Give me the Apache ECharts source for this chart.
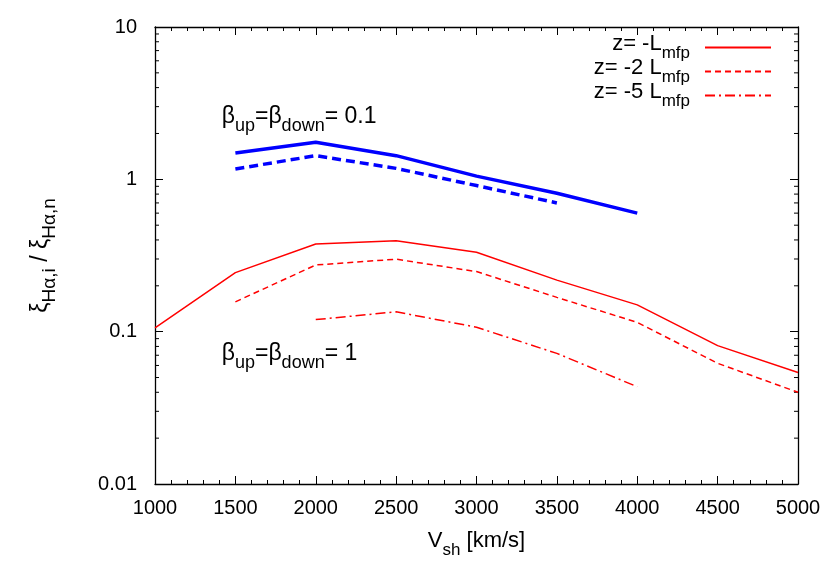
<!DOCTYPE html>
<html><head><meta charset="utf-8">
<script src="https://cdn.jsdelivr.net/npm/echarts@6/dist/echarts.min.js"></script>
<style>html,body{margin:0;padding:0;background:#fff}#c{width:830px;height:582px}</style>
</head><body><div id="c"></div>
<script>
// ---- data ----
const vsh        = [1000, 1500, 2000, 2500, 3000, 3500, 4000, 4500, 5000];
const blueSolid  = [null, 1.49, 1.75, 1.43, 1.05, 0.81, 0.60, null, null];
const blueDashed = [null, 1.17, 1.43, 1.18, 0.91, 0.70, null, null, null];
const redSolid   = [0.106, 0.244, 0.376, 0.395, 0.332, 0.218, 0.150, 0.081, 0.054];
const redDashed  = [null, 0.157, 0.274, 0.299, 0.248, 0.168, 0.115, 0.062, 0.040];
const redDashDot = [null, null, 0.120, 0.135, 0.107, 0.072, 0.0435, null, null];
const yTicks = [0.01, 0.1, 1, 10];

const FONT = "'Liberation Sans', Arial, Helvetica, sans-serif";
function pairs(ys){ const out=[]; ys.forEach((y,i)=>{ if(y!=null) out.push([vsh[i], y]); }); return out; }
const rich = {
  t: {fontSize: 22, fontFamily: FONT, color: '#000', padding: [0,0,7,0]},
  s: {fontSize: 17, fontFamily: FONT, color: '#000', verticalAlign: 'bottom'}
};
const yRich = {
  t: {fontSize: 23, fontFamily: FONT, color: '#000', padding: [0,0,7,0]},
  s: {fontSize: 19, fontFamily: FONT, color: '#000', verticalAlign: 'bottom'}
};
const legendNames = {
  'L1': '{t|z= -L}{s|mfp}',
  'L2': '{t|z= -2 L}{s|mfp}',
  'L5': '{t|z= -5 L}{s|mfp}'
};

const chart = echarts.init(document.getElementById('c'), null, {renderer: 'canvas'});
const axisLineStyle = {color: '#000', width: 1.3};
const option = {
  backgroundColor: '#fff',
  animation: false,
  grid: {left: 155, right: 32, top: 27, bottom: 98},
  legend: {
    orient: 'vertical', right: 53, top: 28, align: 'right',
    itemWidth: 66, itemHeight: 14, itemGap: -5,
    data: ['L1', 'L2', 'L5'],
    itemStyle: {opacity: 0},
    formatter: n => legendNames[n],
    textStyle: {fontFamily: FONT, fontSize: 22, color: '#000', rich: rich, padding: [0, 10, 0, 0]}
  },
  xAxis: [{
    type: 'value', min: 1000, max: 5000, interval: 500, position: 'bottom',
    name: '{t|V}{s|sh}{t| [km/s]}', nameLocation: 'middle', nameGap: 46,
    nameTextStyle: {rich: rich},
    axisLine: {lineStyle: axisLineStyle},
    axisTick: {inside: true, length: 8, lineStyle: {color: '#000'}},
    minorTick: {show: true, splitNumber: 5, length: 4, lineStyle: {color: '#000'}},
    axisLabel: {fontFamily: FONT, fontSize: 20, color: '#000', margin: 14, formatter: v => String(v)},
    splitLine: {show: false}
  }, {
    type: 'value', min: 1000, max: 5000, interval: 500, position: 'top',
    axisLine: {lineStyle: axisLineStyle},
    axisTick: {inside: true, length: 8, lineStyle: {color: '#000'}},
    minorTick: {show: true, splitNumber: 5, length: 4, lineStyle: {color: '#000'}},
    axisLabel: {show: false}, splitLine: {show: false}
  }],
  yAxis: [{
    type: 'log', logBase: 10, min: 0.01, max: 10, position: 'left',
    name: '{t|ξ}{s|Hα,i}{t| / ξ}{s|Hα,n}', nameLocation: 'middle', nameGap: 96, nameRotate: 90,
    nameTextStyle: {rich: yRich},
    axisLine: {lineStyle: axisLineStyle},
    axisTick: {inside: true, length: 8, lineStyle: {color: '#000'}},
    axisLabel: {fontFamily: FONT, fontSize: 20, color: '#000', margin: 18,
      formatter: v => { const m = yTicks.find(t => Math.abs(t - v) / t < 1e-6); return m != null ? String(m) : ''; }},
    splitLine: {show: false}
  }, {
    type: 'log', logBase: 10, min: 0.01, max: 10, position: 'right',
    axisLine: {lineStyle: axisLineStyle},
    axisTick: {inside: true, length: 8, lineStyle: {color: '#000'}},
    axisLabel: {show: false}, splitLine: {show: false}
  }],
  series: [
    {name: 'B1', type: 'line', data: pairs(blueSolid), showSymbol: false, symbol: 'none',
      lineStyle: {color: '#0000ff', width: 3.5}, itemStyle: {color: '#0000ff'}},
    {name: 'B2', type: 'line', data: pairs(blueDashed), showSymbol: false, symbol: 'none',
      lineStyle: {color: '#0000ff', width: 3.5, type: [9, 5]}, itemStyle: {color: '#0000ff'}},
    {name: 'L1', type: 'line', data: pairs(redSolid), showSymbol: false, symbol: 'none',
      lineStyle: {color: '#ff0000', width: 1.5}, itemStyle: {color: '#ff0000'}},
    {name: 'L2', type: 'line', data: pairs(redDashed), showSymbol: false, symbol: 'none',
      lineStyle: {color: '#ff0000', width: 1.5, type: [6, 4]}, itemStyle: {color: '#ff0000'}},
    {name: 'L5', type: 'line', data: pairs(redDashDot), showSymbol: false, symbol: 'none',
      lineStyle: {color: '#ff0000', width: 1.5, type: [10, 4, 2, 4]}, itemStyle: {color: '#ff0000'}}
  ]
};
chart.setOption(option);

// log minor ticks and annotations
const g = [];
const L = 155, R = 830 - 32;
for (let d = -2; d < 1; d++) {
  for (let k = 2; k <= 9; k++) {
    const v = k * Math.pow(10, d);
    const y = chart.convertToPixel({yAxisIndex: 0}, v);
    g.push({type: 'line', shape: {x1: L, y1: y, x2: L + 4, y2: y}, style: {stroke: '#000', lineWidth: 1}});
    g.push({type: 'line', shape: {x1: R, y1: y, x2: R - 4, y2: y}, style: {stroke: '#000', lineWidth: 1}});
  }
}
const p1 = chart.convertToPixel({xAxisIndex: 0, yAxisIndex: 0}, [1415, 3.08]);
const p2 = chart.convertToPixel({xAxisIndex: 0, yAxisIndex: 0}, [1415, 0.0855]);
const annRich = {
  t: {fontSize: 23, fontFamily: FONT, color: '#000', padding: [0,0,7,0]},
  s: {fontSize: 18, fontFamily: FONT, color: '#000', verticalAlign: 'bottom'}
};
g.push({type: 'text', x: p1[0], y: p1[1], style: {text: '{t|β}{s|up}{t|=β}{s|down}{t|= 0.1}', rich: annRich}});
g.push({type: 'text', x: p2[0], y: p2[1], style: {text: '{t|β}{s|up}{t|=β}{s|down}{t|= 1}', rich: annRich}});
chart.setOption({graphic: g});
</script>
</body></html>
